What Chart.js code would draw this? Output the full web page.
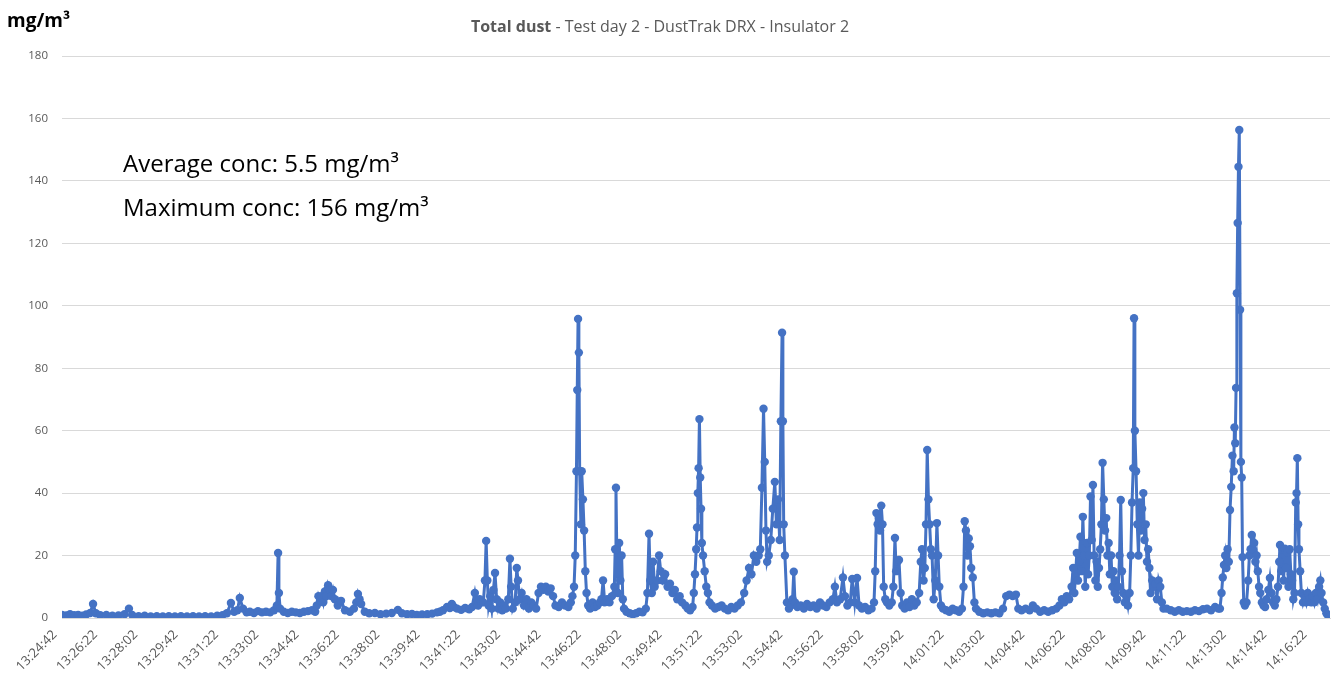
<!DOCTYPE html>
<html>
<head>
<meta charset="utf-8">
<script src="https://cdn.jsdelivr.net/npm/chart.js@4.4.1/dist/chart.umd.min.js"></script>
<style>
  body { margin: 0; background: #fff; }
  canvas { display: block; }
</style>
</head>
<body>
<canvas id="dust-chart" width="1336" height="677"></canvas>
<script>
// x axis labels, one every 100 s of logging
const tickLabels = [
    '13:24:42', '13:26:22', '13:28:02', '13:29:42', '13:31:22', '13:33:02', '13:34:42', '13:36:22',
    '13:38:02', '13:39:42', '13:41:22', '13:43:02', '13:44:42', '13:46:22', '13:48:02', '13:49:42',
    '13:51:22', '13:53:02', '13:54:42', '13:56:22', '13:58:02', '13:59:42', '14:01:22', '14:03:02',
    '14:04:42', '14:06:22', '14:08:02', '14:09:42', '14:11:22', '14:13:02', '14:14:42', '14:16:22'
]
const tickStep = 100

// seconds after 13:24:42
const elapsed = [
    0, 10, 20, 30, 40, 50, 60, 70, 77, 84, 95, 110, 125, 140, 155, 166, 174, 190, 205, 220, 235, 250, 265, 280, 295, 310, 325, 340, 355, 370, 385, 398,
    409, 419, 427, 435, 441, 449, 458, 466, 476, 486, 496, 506, 516, 526, 533, 536, 538, 541, 550, 560, 570, 580, 590, 600, 610, 620, 628, 632, 636, 640, 644, 648, 652, 656, 660, 664, 668, 672, 677, 684, 692, 702, 714, 724, 730, 734, 738, 742, 751, 762, 776, 790, 804, 818, 833, 843, 856, 868, 880, 893, 906, 918, 930, 937,
    945, 955, 962, 967, 972, 980, 990, 1000, 1010, 1017, 1024, 1028, 1032, 1036, 1040, 1045, 1049, 1052, 1055, 1058, 1062, 1066, 1070, 1074, 1078, 1082, 1087, 1092, 1097, 1101, 1107, 1111, 1114, 1118, 1124, 1128, 1131, 1135, 1140, 1146, 1152, 1158, 1164, 1170, 1176, 1182, 1188, 1194, 1200, 1206, 1212, 1218, 1224, 1232, 1240, 1248, 1256, 1262, 1266,
    1270, 1273, 1276, 1278, 1280, 1282, 1284, 1287, 1289, 1292, 1295, 1298, 1301, 1305,
    1310, 1316, 1322, 1328, 1334, 1338, 1342, 1346, 1352, 1358, 1364, 1370, 1372, 1374, 1376, 1379, 1382, 1385, 1388, 1391, 1394, 1400, 1408, 1416, 1424, 1432, 1440, 1448, 1452, 1456, 1459, 1463, 1466, 1470, 1476, 1481, 1485, 1490, 1496, 1502, 1508, 1514, 1520, 1526, 1532, 1538, 1546, 1552, 1558, 1564,
    1567, 1570, 1573, 1575, 1577, 1579, 1581, 1583, 1585, 1587, 1590, 1594, 1598, 1602, 1606, 1612, 1620, 1628, 1636, 1644, 1652, 1660, 1668, 1676, 1684, 1692, 1698, 1704, 1710, 1716, 1722, 1728, 1732, 1736, 1740, 1743, 1746, 1749, 1753, 1758, 1763, 1768, 1772, 1776, 1780, 1783, 1786, 1788, 1790, 1793, 1798, 1803, 1808, 1812, 1815, 1818,
    1824, 1832, 1840, 1848, 1856, 1864, 1872, 1880, 1888, 1896, 1904, 1912, 1917, 1922, 1930, 1937, 1942, 1948, 1955, 1960, 1966, 1972, 1977, 1984, 1992, 2000, 2008, 2014, 2017, 2020, 2023, 2026, 2029, 2032, 2035, 2038, 2042, 2046, 2052, 2058, 2062, 2066, 2069, 2072, 2076, 2080, 2084, 2090, 2096, 2102, 2108, 2114, 2120,
    2126, 2130, 2133, 2137, 2140, 2143, 2146, 2149, 2152, 2155, 2158, 2162, 2166, 2170, 2173, 2176, 2180, 2185, 2193, 2201, 2209, 2217, 2225, 2232, 2236, 2239, 2242, 2246, 2249, 2252, 2255, 2259, 2263, 2267, 2275, 2285, 2295, 2305, 2315, 2325, 2334, 2342, 2350, 2358, 2366, 2372, 2380, 2390, 2400, 2408, 2416, 2426, 2436, 2446, 2456, 2466, 2474, 2480, 2486, 2492, 2498,
    2504, 2508, 2511, 2514, 2517, 2520, 2523, 2526, 2529, 2532, 2535, 2538, 2542, 2545, 2548, 2551, 2554, 2557, 2560, 2563, 2566, 2569, 2572, 2575, 2578, 2581, 2584, 2587, 2590, 2593, 2596, 2599, 2602, 2605, 2608, 2611, 2614, 2617, 2620, 2623, 2626, 2629, 2632, 2636, 2640, 2644, 2648, 2651, 2654, 2657, 2659, 2661, 2664, 2667, 2670, 2673, 2676, 2679, 2682, 2685, 2688, 2691, 2694, 2697, 2700, 2704, 2708, 2712, 2716, 2720, 2724, 2728, 2732,
    2740, 2750, 2760, 2770, 2780, 2790, 2800, 2810, 2820, 2830, 2840, 2850, 2860, 2868,
    2872, 2876, 2879, 2882, 2885, 2888, 2891, 2894, 2897, 2900, 2903, 2906, 2908, 2910, 2912, 2914, 2916, 2918, 2920, 2922, 2924, 2926, 2928, 2931, 2934,
    2938, 2942, 2945, 2948, 2951, 2954, 2957, 2960, 2963, 2966, 2969, 2972, 2976, 2980, 2984, 2988, 2992, 2996, 3000, 3004, 3008, 3012,
    3016, 3019, 3021, 3024, 3027, 3030, 3033, 3036, 3039, 3042, 3045, 3048, 3051, 3054, 3057, 3060, 3062, 3064, 3066, 3068, 3071, 3074, 3078, 3082, 3086, 3090, 3094, 3098, 3102, 3106, 3110, 3114, 3118, 3121, 3124, 3128, 3132, 3136, 3140, 3144
]

// mg/m3
const dust = [
    1.0, 0.8, 1.2, 0.9, 1.0, 0.7, 1.1, 1.6, 4.5, 1.5, 0.9, 1.0, 0.7, 0.8, 1.2, 3.0, 1.0, 0.6, 0.7, 0.5, 0.6, 0.5, 0.6, 0.5, 0.6, 0.5, 0.6, 0.5, 0.6, 0.5, 0.7, 0.9,
    1.5, 4.8, 2.0, 2.5, 6.4, 3.0, 1.8, 2.0, 1.6, 2.2, 1.8, 2.0, 1.8, 2.5, 4.0, 20.8, 8.0, 3.0, 2.0, 1.6, 2.0, 1.8, 1.6, 2.0, 2.2, 2.5, 2.0, 4.0, 7.0, 5.5, 7.0, 5.0, 8.5, 7.0, 10.5, 9.0, 7.0, 9.0, 6.0, 4.0, 5.5, 2.5, 2.0, 3.0, 5.0, 7.7, 6.0, 4.5, 2.0, 1.5, 1.6, 1.2, 1.4, 1.6, 2.6, 1.5, 1.2, 1.3, 1.0, 1.1, 1.2, 1.4, 1.8, 2.0,
    2.5, 3.5, 3.2, 4.5, 3.5, 3.0, 2.6, 3.2, 2.8, 3.5, 8.0, 5.0, 4.0, 6.0, 5.0, 5.0, 12.0, 24.7, 12.0, 4.0, 7.0, 3.0, 9.0, 14.4, 6.0, 3.0, 5.0, 2.5, 4.0, 3.0, 6.0, 19.0, 10.0, 3.0, 5.0, 16.0, 12.0, 6.0, 8.0, 4.0, 6.0, 3.0, 5.0, 4.0, 3.0, 8.0, 10.0, 9.0, 10.0, 8.5, 9.5, 7.0, 4.0, 3.5, 5.0, 4.0, 3.5, 5.0, 7.0,
    10.0, 20.0, 47.0, 73.0, 95.8, 85.0, 47.0, 30.0, 47.0, 38.0, 28.0, 15.0, 8.0, 4.0,
    3.0, 5.0, 3.5, 4.0, 5.0, 6.0, 12.0, 5.0, 6.0, 5.0, 7.0, 10.0, 22.0, 41.7, 22.0, 8.0, 24.0, 12.0, 20.0, 6.0, 3.0, 2.0, 1.5, 1.2, 1.5, 2.0, 1.8, 3.0, 8.0, 27.0, 12.0, 8.0, 18.0, 10.0, 12.0, 20.0, 15.0, 12.0, 14.0, 10.0, 11.0, 8.0, 9.0, 6.0, 7.0, 5.0, 4.0, 3.0, 2.5, 3.5,
    8.0, 14.0, 22.0, 29.0, 40.0, 48.0, 63.7, 45.0, 35.0, 24.0, 20.0, 15.0, 10.0, 8.0, 5.0, 4.0, 3.0, 3.5, 4.0, 3.0, 2.5, 3.5, 3.0, 4.0, 5.0, 8.0, 12.0, 16.0, 14.0, 20.0, 18.0, 20.0, 22.0, 41.7, 67.0, 50.0, 28.0, 18.0, 20.0, 25.0, 35.0, 43.6, 30.0, 38.0, 25.0, 63.0, 91.4, 63.0, 30.0, 20.0, 5.0, 3.0, 4.0, 6.0, 14.8, 5.0,
    3.5, 4.0, 3.0, 4.5, 3.5, 4.0, 3.0, 5.0, 4.0, 3.5, 5.0, 6.0, 10.0, 5.0, 6.0, 13.0, 7.0, 4.0, 5.0, 12.5, 5.0, 12.8, 4.0, 3.0, 3.5, 2.5, 3.0, 5.0, 15.0, 33.6, 30.0, 32.0, 28.0, 36.0, 30.0, 10.0, 6.0, 5.0, 4.0, 5.0, 10.0, 25.6, 15.0, 18.0, 18.6, 8.0, 4.0, 3.0, 5.0, 3.5, 6.0, 4.0, 5.0,
    8.0, 18.0, 22.0, 12.0, 16.0, 30.0, 53.8, 38.0, 30.0, 22.0, 20.0, 6.0, 12.0, 30.4, 20.0, 10.0, 4.0, 3.0, 2.5, 2.0, 3.0, 2.5, 2.0, 3.0, 10.0, 31.0, 28.0, 20.0, 25.5, 23.0, 16.0, 13.0, 5.0, 3.0, 2.0, 1.5, 1.8, 1.5, 1.8, 1.5, 3.0, 7.0, 7.5, 7.0, 7.5, 3.0, 2.5, 3.0, 2.5, 4.0, 3.0, 2.0, 2.5, 2.0, 2.5, 3.0, 4.0, 6.0, 5.0, 7.0, 6.0,
    10.0, 16.0, 8.0, 14.0, 20.8, 12.0, 18.0, 26.0, 15.0, 32.4, 20.0, 10.0, 24.0, 14.0, 20.0, 38.9, 25.0, 42.6, 20.0, 12.0, 18.0, 10.0, 16.0, 22.0, 30.0, 49.7, 38.0, 28.0, 32.0, 20.0, 24.0, 14.0, 20.0, 10.0, 15.0, 8.0, 12.0, 6.0, 10.0, 20.0, 37.8, 15.0, 8.0, 5.0, 7.0, 4.0, 8.0, 20.0, 37.0, 48.0, 96.0, 60.0, 47.0, 30.0, 20.0, 37.0, 28.0, 35.0, 40.0, 25.0, 30.0, 18.0, 22.0, 16.0, 8.0, 12.0, 10.0, 11.0, 6.0, 12.0, 10.0, 5.0, 3.0,
    3.0, 2.5, 2.0, 2.5, 2.0, 2.2, 2.0, 2.5, 2.2, 2.8, 3.0, 2.5, 3.5, 3.0,
    3.0, 8.0, 13.0, 17.0, 20.0, 16.0, 22.0, 18.0, 34.6, 42.0, 52.0, 47.0, 61.0, 56.0, 73.7, 104.0, 126.5, 144.5, 156.3, 98.7, 50.0, 45.0, 19.5, 5.0, 4.0,
    5.0, 12.0, 20.0, 22.0, 26.6, 22.0, 24.0, 18.0, 20.0, 15.0, 10.0, 8.0, 5.0, 4.0, 3.5, 6.0, 9.0, 12.8, 8.0, 5.0, 4.0, 6.0,
    10.0, 18.0, 23.4, 15.0, 22.0, 12.0, 22.2, 16.0, 21.0, 10.0, 22.0, 14.0, 12.0, 6.0, 8.0, 37.0, 40.0, 51.2, 30.0, 22.0, 15.0, 8.0, 5.0, 7.0, 5.0, 8.0, 6.0, 5.0, 7.0, 5.0, 8.0, 6.0, 10.0, 12.0, 8.0, 5.0, 3.0, 1.5, 0.8, 0.5
]

const yTicks = [0, 20, 40, 60, 80, 100, 120, 140, 160, 180]
const averageConc = 5.5
const maximumConc = 156

const textPlugin = {
    id: 'texts',
    afterDraw(chart) {
        const ctx = chart.ctx
        ctx.save()
        ctx.textBaseline = 'alphabetic'

        // title: bold part + normal part, centred as one line
        const bold = 'Total dust'
        const rest = ' - Test day 2 - DustTrak DRX - Insulator 2'
        ctx.font = 'bold 16px "Open Sans"'
        const w1 = ctx.measureText(bold).width
        ctx.font = '16px "Open Sans"'
        const w2 = ctx.measureText(rest).width
        const x0 = 660 - (w1 + w2) / 2
        ctx.fillStyle = '#595959'
        ctx.font = 'bold 16px "Open Sans"'
        ctx.fillText(bold, x0, 32)
        ctx.font = '16px "Open Sans"'
        ctx.fillText(rest, x0 + w1, 32)

        // unit label
        ctx.fillStyle = '#000'
        ctx.font = 'bold 19px "Open Sans"'
        ctx.fillText('mg/m³', 7, 27)

        // stats
        ctx.font = '24px "Open Sans"'
        ctx.fillText('Average conc: ' + averageConc + ' mg/m³', 123, 172)
        ctx.fillText('Maximum conc: ' + maximumConc + ' mg/m³', 123, 216)
        ctx.restore()
    }
}

const canvas = document.querySelector('#dust-chart')
new Chart(canvas.getContext('2d'), {
    type: 'line',
    data: {
        datasets: [{
            data: elapsed.map((s, i) => ({ x: s, y: dust[i] })),
            borderColor: '#4472C4',
            backgroundColor: '#4472C4',
            borderWidth: 3,
            pointRadius: 4.2,
            pointBorderWidth: 0,
            pointBackgroundColor: '#4472C4',
            tension: 0
        }]
    },
    options: {
        responsive: false,
        animation: false,
        layout: { padding: { top: 56, right: 6, left: 0, bottom: 0 } },
        plugins: {
            legend: { display: false },
            tooltip: { enabled: false }
        },
        scales: {
            x: {
                type: 'linear',
                min: 0,
                max: 3145,
                afterBuildTicks: scale => {
                    scale.ticks = tickLabels.map((l, i) => ({ value: i * tickStep, label: l }))
                },
                afterFit: scale => { scale.height = 59 },
                grid: { display: false },
                border: { color: '#d9d9d9' },
                ticks: {
                    autoSkip: false,
                    minRotation: 45,
                    maxRotation: 45,
                    padding: 1,
                    labelOffset: -7,
                    color: '#595959',
                    font: { family: 'Open Sans', size: 13 },
                    callback: (v, i) => tickLabels[i]
                }
            },
            y: {
                min: 0,
                max: 180,
                afterFit: scale => { scale.width = 62 },
                afterBuildTicks: scale => {
                    scale.ticks = yTicks.map(v => ({ value: v }))
                },
                grid: { color: '#d9d9d9', drawTicks: false },
                border: { display: false },
                ticks: {
                    padding: 14,
                    color: '#595959',
                    font: { family: 'Open Sans', size: 11.5 }
                }
            }
        }
    },
    plugins: [textPlugin]
})
</script>
</body>
</html>
